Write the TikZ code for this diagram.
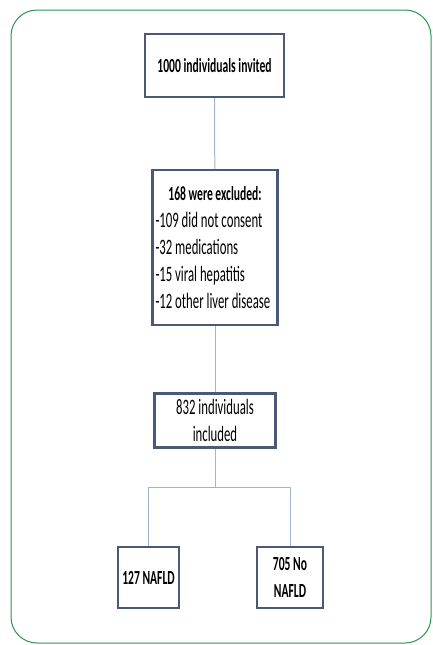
\documentclass[tikz,border=0pt]{standalone}
\usepackage{fontspec}
\setmainfont{Carlito}[FakeStretch=0.58]
\usepackage{tikz}

\definecolor{boxblue}{RGB}{74,90,118}
\definecolor{linkblue}{RGB}{160,180,205}
\definecolor{framegreen}{RGB}{40,150,80}

\begin{document}
\begin{tikzpicture}[x=1pt, y=-1pt,
    box/.style = {draw=boxblue, line width=2.2pt, fill=white, inner sep=3pt, align=center},
    link/.style = {draw=linkblue, line width=1pt}]

        \useasboundingbox (0,0) rectangle (432,645);
        \draw[framegreen, line width=1pt, rounded corners=26pt] (11,10) rectangle (431,643);

        \fontsize{20}{27}\selectfont

        \node[box, minimum width=139pt, minimum height=63pt] (invited) at (214.5,65.5) {\textbf{1000 individuals invited}};
        \node[box, minimum width=125pt, minimum height=155pt, text width=119pt, align=flush left] (excluded) at (215,247.5)
            {{\centering\textbf{168 were excluded:}\par}
             \fontsize{22}{27}\selectfont
             -109 did not consent\\ -32 medications\\ -15 viral hepatitis\\ -12 other liver disease};
        \node[box, minimum width=121pt, minimum height=54pt, text width=115pt, align=flush center] (included) at (215,420.5)
            {\fontsize{22}{27}\selectfont 832 individuals\\included};
        \node[box, minimum width=61pt, minimum height=61pt] (nafld) at (148.5,577.5) {\textbf{127 NAFLD}};
        \node[box, minimum width=66pt, minimum height=61pt] (nonafld) at (290,577.5) {\textbf{705 No}\\\textbf{NAFLD}};

        \coordinate (split) at (215,487);

        \draw[link] (invited) -- (excluded);
        \draw[link] (excluded) -- (included);
        \draw[link] (included) -- (split);
        \draw[link] (split) -| (nafld);
        \draw[link] (split) -| (nonafld);

    \end{tikzpicture}
\end{document}
